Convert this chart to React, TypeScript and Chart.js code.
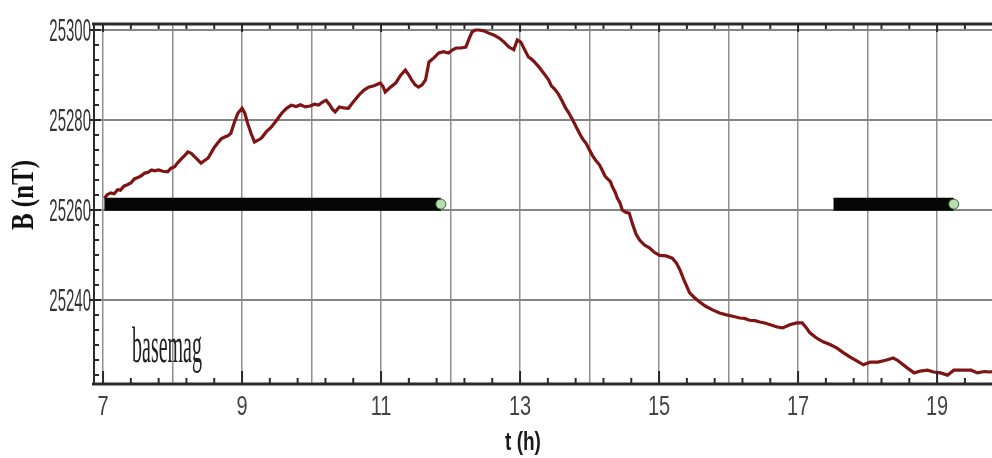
import React, { useEffect, useRef } from "react";
import { Chart, registerables } from "chart.js";

Chart.register(...registerables);

// ---- data ----
const tHours = [
  7.02, 7.06, 7.11, 7.16, 7.21, 7.25, 7.3, 7.35, 7.4, 7.45, 7.5, 7.55, 7.6, 7.65, 7.7, 7.74, 7.8, 7.86, 7.93, 7.98,
  8.03, 8.08, 8.13, 8.18, 8.22, 8.27, 8.32, 8.36, 8.41, 8.46, 8.51, 8.56, 8.6, 8.65, 8.7, 8.75, 8.8, 8.84, 8.89, 8.94,
  9.0, 9.04, 9.08, 9.13, 9.18, 9.23, 9.28, 9.35, 9.42, 9.5, 9.57, 9.64, 9.71, 9.78, 9.84, 9.91, 9.98, 10.04, 10.1, 10.16,
  10.21, 10.26, 10.3, 10.34, 10.4, 10.46, 10.53, 10.6, 10.68, 10.75, 10.82, 10.9, 10.99, 11.03, 11.06, 11.13, 11.21, 11.28, 11.35, 11.4,
  11.44, 11.49, 11.54, 11.59, 11.64, 11.69, 11.76, 11.83, 11.9, 11.97, 12.03, 12.08, 12.15, 12.22, 12.27, 12.31, 12.36, 12.41, 12.48, 12.55,
  12.62, 12.7, 12.77, 12.84, 12.91, 12.96, 13.01, 13.06, 13.12, 13.16, 13.2, 13.27, 13.34, 13.41, 13.45, 13.5, 13.55, 13.6, 13.65, 13.7,
  13.75, 13.81, 13.86, 13.9, 13.95, 14.0, 14.05, 14.09, 14.14, 14.18, 14.22, 14.26, 14.3, 14.33, 14.37, 14.4, 14.44, 14.47, 14.52, 14.57,
  14.62, 14.67, 14.72, 14.79, 14.86, 14.93, 15.01, 15.1, 15.19, 15.25, 15.3, 15.37, 15.44, 15.51, 15.58, 15.67, 15.77, 15.87, 15.97, 16.06,
  16.16, 16.23, 16.3, 16.38, 16.45, 16.52, 16.6, 16.7, 16.78, 16.88, 16.98, 17.06, 17.12, 17.17, 17.26, 17.36, 17.46, 17.56, 17.66, 17.75,
  17.85, 17.94, 18.04, 18.15, 18.26, 18.37, 18.43, 18.48, 18.58, 18.67, 18.76, 18.86, 18.95, 19.05, 19.15, 19.24, 19.36, 19.49, 19.58, 19.68,
  19.77, 19.8,
];
const bField = [
  25262.6, 25263.4, 25263.8, 25263.6, 25264.5, 25264.4, 25265.3, 25265.6, 25266.0, 25266.9, 25267.2, 25267.6, 25268.2, 25268.4, 25268.9, 25268.7, 25268.9, 25268.6, 25268.5, 25269.3,
  25269.6, 25270.6, 25271.4, 25272.2, 25272.9, 25272.6, 25271.8, 25271.2, 25270.4, 25271.0, 25271.5, 25272.8, 25273.9, 25274.9, 25275.8, 25276.2, 25276.5, 25277.1, 25279.5, 25281.5,
  25282.6, 25281.5, 25279.3, 25277.0, 25275.1, 25275.5, 25276.0, 25277.4, 25278.4, 25280.0, 25281.5, 25282.6, 25283.3, 25283.0, 25283.4, 25282.9, 25283.1, 25283.5, 25283.3, 25284.0,
  25284.4, 25283.4, 25282.4, 25281.8, 25282.9, 25282.7, 25282.6, 25284.0, 25285.5, 25286.6, 25287.3, 25287.6, 25288.2, 25287.4, 25286.2, 25287.2, 25288.2, 25289.9, 25291.1, 25290.0,
  25288.9, 25287.8, 25287.3, 25287.8, 25288.9, 25292.9, 25293.8, 25294.9, 25295.2, 25294.9, 25295.6, 25296.0, 25296.0, 25296.2, 25298.2, 25299.6, 25300.0, 25300.0, 25299.8, 25299.3,
  25298.9, 25298.2, 25297.3, 25296.2, 25295.6, 25297.8, 25297.3, 25295.8, 25294.0, 25293.6, 25293.0, 25291.8, 25290.4, 25288.9, 25287.6, 25286.8, 25285.8, 25284.4, 25282.8, 25281.6,
  25280.2, 25278.4, 25276.9, 25275.8, 25274.8, 25273.3, 25271.9, 25271.0, 25270.1, 25268.9, 25267.6, 25266.9, 25266.3, 25265.1, 25263.9, 25262.6, 25261.5, 25260.0, 25259.5, 25259.3,
  25256.8, 25254.6, 25253.3, 25252.2, 25251.6, 25250.6, 25249.9, 25249.8, 25249.3, 25248.2, 25246.7, 25244.0, 25241.6, 25240.5, 25239.6, 25238.6, 25237.8, 25237.1, 25236.7, 25236.4,
  25236.0, 25235.9, 25235.5, 25235.4, 25235.1, 25234.9, 25234.5, 25234.0, 25233.8, 25234.5, 25234.9, 25234.9, 25233.8, 25232.7, 25231.6, 25230.7, 25230.1, 25229.3, 25228.2, 25227.3,
  25226.4, 25225.6, 25226.2, 25226.2, 25226.6, 25227.1, 25226.6, 25226.0, 25224.8, 25223.8, 25224.2, 25224.4, 25224.0, 25223.8, 25223.3, 25224.4, 25224.4, 25224.4, 25223.8, 25224.1,
  25224.0, 25224.1,
];

const barStartT = [7.02, 17.51];
const barEndT = [11.86, 19.24];
const barLevel = 25261.3;

const xTickLabels = [7, 9, 11, 13, 15, 17, 19];
const xGridHours = [7, 8, 9, 10, 11, 12, 13, 14, 15, 16, 17, 18, 19];
const yTickLabels = [25240, 25260, 25280, 25300];

const X_MIN = 6.87;
const X_MAX = 19.79;
const Y_MIN = 25221.33;
const Y_MAX = 25301.33;

function drawScaled(
  ctx: CanvasRenderingContext2D,
  text: string,
  x: number,
  y: number,
  font: string,
  sx: number,
  sy: number,
  align: CanvasTextAlign,
  baseline: CanvasTextBaseline,
  color: string
) {
  ctx.save();
  ctx.translate(x, y);
  ctx.scale(sx, sy);
  ctx.font = font;
  ctx.textAlign = align;
  ctx.textBaseline = baseline;
  ctx.fillStyle = color;
  ctx.fillText(text, 0, 0);
  ctx.restore();
}

const decorPlugin = {
  id: "decor",
  beforeDraw(chart: any) {
    const { ctx, width, height } = chart;
    ctx.save();
    ctx.fillStyle = "#ffffff";
    ctx.fillRect(0, 0, width, height);
    ctx.restore();
  },
  afterDraw(chart: any) {
    const { ctx, chartArea: ca, scales } = chart;
    const xs = scales.x;
    const ys = scales.y;
    const seg = (x1: number, y1: number, x2: number, y2: number) => {
      ctx.beginPath();
      ctx.moveTo(x1, y1);
      ctx.lineTo(x2, y2);
      ctx.stroke();
    };
    ctx.save();
    ctx.strokeStyle = "#2a2a2a";
    ctx.lineWidth = 3;
    seg(ca.left - 2, ca.top, ca.right, ca.top);
    seg(ca.left - 2, ca.bottom, ca.right, ca.bottom);
    ctx.lineWidth = 2;
    seg(ca.left, ca.top, ca.left, ca.bottom);

    // x minor / major ticks
    ctx.lineWidth = 2;
    for (let i = 0; i <= 33; i++) {
      const v = 7 + i * 0.4;
      if (v > X_MAX) break;
      const px = xs.getPixelForValue(v);
      const major = i % 5 === 0;
      seg(px, ca.bottom, px, ca.bottom - (major ? 13 : 6));
      seg(px, ca.top, px, ca.top + (major ? 8 : 5));
    }
    // y minor / major ticks
    for (let k = -5; k <= 18; k++) {
      const v = 25240 + (k * 20) / 6;
      if (v < Y_MIN || v > Y_MAX) continue;
      const py = ys.getPixelForValue(v);
      if (k % 6 === 0) seg(ca.left - 5, py, ca.left + 7, py);
      else seg(ca.left, py, ca.left + 5, py);
    }

    // y tick labels
    yTickLabels.forEach((v) => {
      const py = ys.getPixelForValue(v);
      drawScaled(ctx, String(v), ca.left - 3, py + 11, "15px 'Liberation Sans'", 1, 2.05, "right", "alphabetic", "#333");
    });
    // x tick labels
    xTickLabels.forEach((v) => {
      const px = xs.getPixelForValue(v);
      drawScaled(ctx, String(v), px, 415, "20px 'Liberation Sans'", 1, 1.4, "center", "alphabetic", "#444");
    });
    // axis titles
    drawScaled(ctx, "t (h)", 523, 450, "bold 19px 'Liberation Sans'", 1, 1.35, "center", "alphabetic", "#1a1a1a");
    ctx.save();
    ctx.translate(33, 195);
    ctx.rotate(-Math.PI / 2);
    ctx.scale(1, 1.25);
    ctx.font = "bold 25px 'Liberation Serif'";
    ctx.textAlign = "center";
    ctx.textBaseline = "alphabetic";
    ctx.fillStyle = "#111";
    ctx.fillText("B (nT)", 0, 0);
    ctx.restore();
    // annotation
    drawScaled(ctx, "basemag", 132, 362, "20px 'Liberation Serif'", 1, 2.5, "left", "alphabetic", "#222");
    ctx.restore();
  },
};

export default function App() {
  const ref = useRef<HTMLCanvasElement | null>(null);
  useEffect(() => {
    if (!ref.current) return;
    const lineData = tHours.map((t, i) => ({ x: t, y: bField[i] }));
    const barSets = barStartT.map((s, i) => ({
      type: "line" as const,
      data: [
        { x: s, y: barLevel },
        { x: barEndT[i], y: barLevel },
      ],
      borderColor: "#050505",
      borderWidth: 13,
      borderCapStyle: "butt" as const,
      pointRadius: [0, 5],
      pointBackgroundColor: "#b9dcb0",
      pointBorderColor: "#2f6f2f",
      pointBorderWidth: 1,
      order: 0,
    }));
    const chart = new Chart(ref.current, {
      type: "line",
      data: {
        datasets: [
          ...barSets,
          {
            data: lineData,
            borderColor: "#7e1414",
            borderWidth: 3.2,
            pointRadius: 0,
            tension: 0,
            borderJoinStyle: "miter",
            order: 1,
          } as any,
        ],
      },
      options: {
        responsive: false,
        animation: false,
        devicePixelRatio: 1,
        layout: { autoPadding: false, padding: { top: 24, right: 0, left: 0, bottom: 0 } },
        plugins: { legend: { display: false }, tooltip: { enabled: false } },
        scales: {
          x: {
            type: "linear",
            min: X_MIN,
            max: X_MAX,
            afterBuildTicks: (scale: any) => {
              scale.ticks = xGridHours.map((v) => ({ value: v }));
            },
            afterFit: (scale: any) => {
              scale.height = 74;
            },
            ticks: { display: false },
            grid: { color: "#8f8f8f", lineWidth: 1.5, drawTicks: false },
            border: { display: false },
          },
          y: {
            type: "linear",
            min: Y_MIN,
            max: Y_MAX,
            afterBuildTicks: (scale: any) => {
              scale.ticks = yTickLabels.map((v) => ({ value: v }));
            },
            afterFit: (scale: any) => {
              scale.width = 94;
            },
            ticks: { display: false },
            grid: { color: "#858585", lineWidth: 2, drawTicks: false },
            border: { display: false },
          },
        },
      },
      plugins: [decorPlugin],
    });
    return () => chart.destroy();
  }, []);
  return (
    <div style={{ position: "fixed", left: 0, top: 0, width: 992, height: 458, background: "#fff" }}>
      <canvas ref={ref} width={992} height={458} style={{ display: "block" }} />
    </div>
  );
}
